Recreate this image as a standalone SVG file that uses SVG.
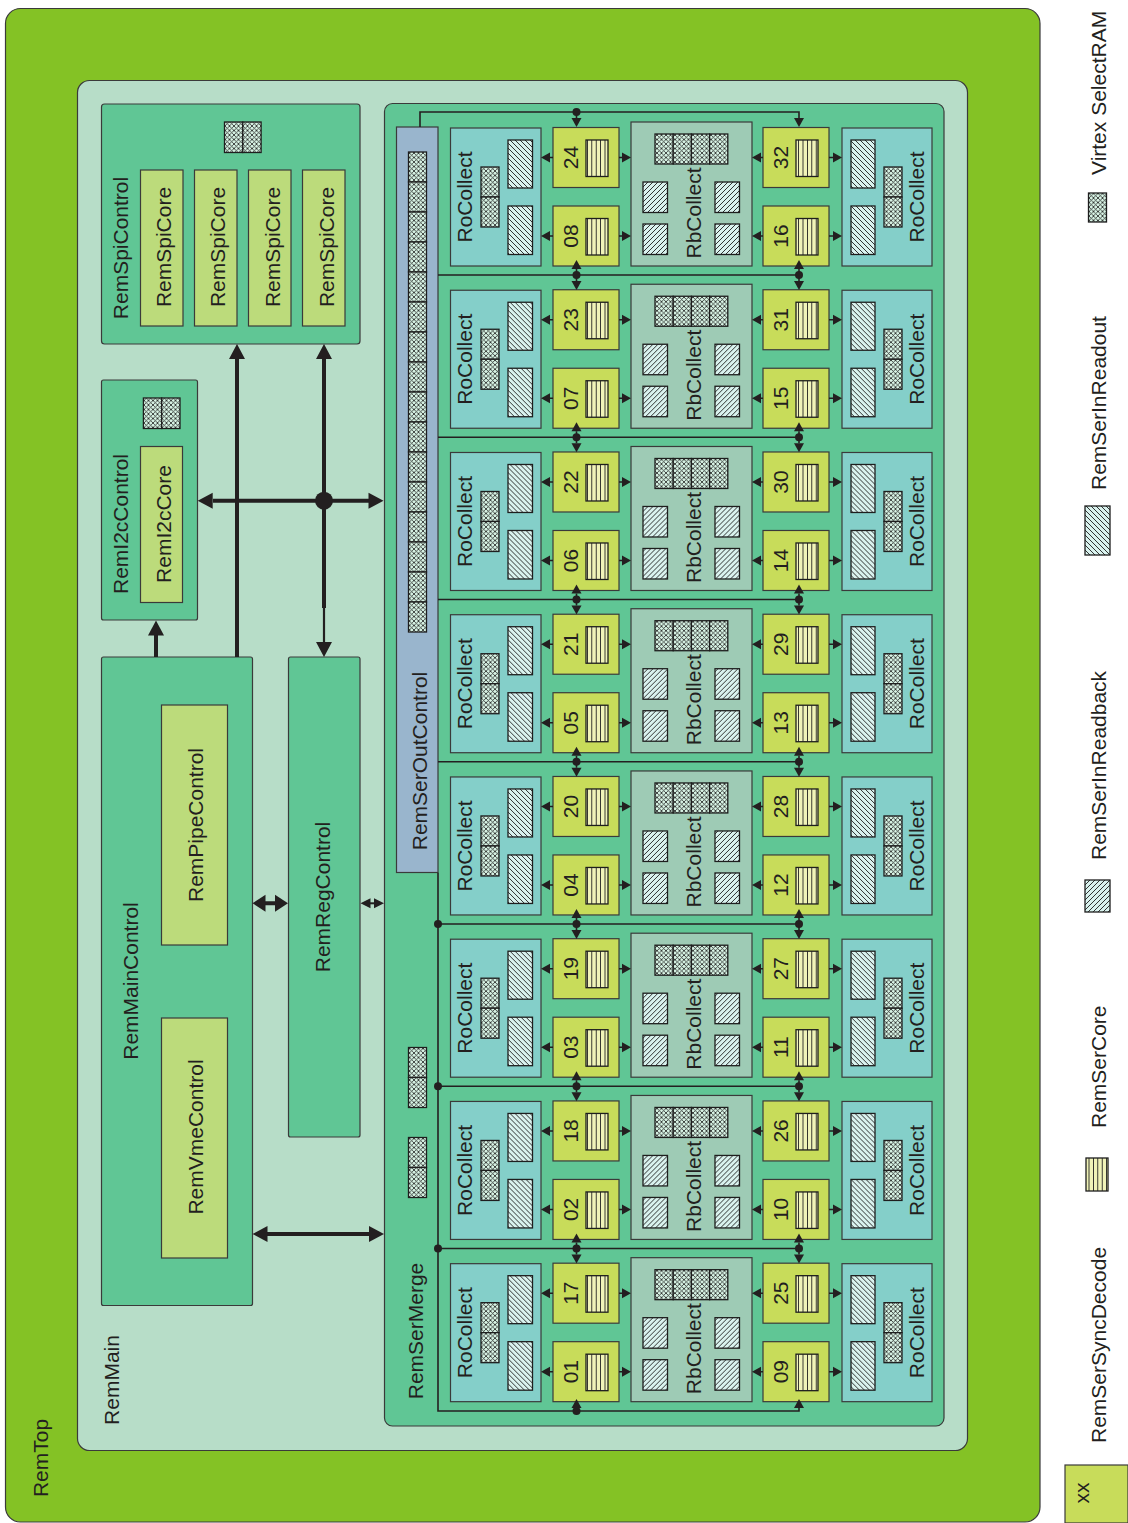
<svg xmlns="http://www.w3.org/2000/svg" width="1128" height="1523" viewBox="0 0 1128 1523">
<style>
.bx{stroke:#3a3a3a;stroke-width:1.2}
.top{fill:#84c225}
.main{fill:#b7ddc8}
.mg{fill:#60c695}
.lc{fill:#bcdb7b}
.oc{fill:#99b5cd}
.rc{fill:#84cfc9;stroke:#3a3a3a;stroke-width:1.2}
.rb{fill:#9ecbb5;stroke:#3a3a3a;stroke-width:1.2}
.sd{fill:#c8dc5a;stroke:#3a3a3a;stroke-width:1.2}
.cr{fill:url(#pCore);stroke:#1e1e1e;stroke-width:1.3}
.sr{fill:url(#pSram);stroke:#1e1e1e;stroke-width:1.3}
.ho{fill:url(#pRo);stroke:#1e1e1e;stroke-width:1.3}
.hb{fill:url(#pRb);stroke:#1e1e1e;stroke-width:1.3}
.t{font-family:"Liberation Sans",Arial,sans-serif;font-size:21px;fill:#231f20;text-anchor:middle}
.ts{text-anchor:start}
.ln{fill:none;stroke:#231f20;stroke-width:1.6}
.th{fill:none;stroke:#231f20;stroke-width:4}
.dot{fill:#231f20}
</style>
<defs>
<pattern id="pSram" width="4.5" height="4.5" patternUnits="userSpaceOnUse"><rect width="4.5" height="4.5" fill="#d9f5e6"/><path d="M0,0L4.5,4.5M4.5,0L0,4.5" stroke="#1e1e1e" stroke-width="0.8"/></pattern>
<pattern id="pRo" width="5" height="5" patternUnits="userSpaceOnUse"><rect width="5" height="5" fill="#d9f2ee"/><path d="M0,0L5,5M-1,4L1,6M4,-1L6,1" stroke="#1e1e1e" stroke-width="0.9"/></pattern>
<pattern id="pRb" width="5" height="5" patternUnits="userSpaceOnUse"><rect width="5" height="5" fill="#d9f2ee"/><path d="M0,5L5,0M-1,1L1,-1M4,6L6,4" stroke="#1e1e1e" stroke-width="0.9"/></pattern>
<pattern id="pCore" width="4.4" height="10" patternUnits="userSpaceOnUse"><rect width="4.4" height="10" fill="#f0f3b8"/><path d="M2.2,0V10" stroke="#1e1e1e" stroke-width="0.9"/></pattern>
<path id="ah" d="M0,0L-9,-5L-9,5Z" fill="#231f20"/>
<path id="AH" d="M0,0L-15,-8L-15,8Z" fill="#231f20"/>
<path id="AH2" d="M0,0L-13,-8.5L-13,8.5Z" fill="#231f20"/>
<path id="AHs" d="M0,0L-10,-5L-10,5Z" fill="#231f20"/>
</defs>

<g id="RemTop">
<rect class="bx top" x="5.5" y="8.5" width="1034.5" height="1513.5" rx="15"/>
<text class="t" transform="translate(48,1458) rotate(-90)">RemTop</text>
</g>
<g id="RemMain">
<rect class="bx main" x="77.5" y="80.5" width="890" height="1370" rx="12"/>
<text class="t" transform="translate(119,1380) rotate(-90)">RemMain</text>
</g>

<g id="RemSpiControl">
<rect class="bx mg" x="101.5" y="104" width="258.5" height="240" rx="3"/>
<rect class="sr" x="224.5" y="122" width="18.3" height="30.5"/>
<rect class="sr" x="242.8" y="122" width="18.3" height="30.5"/>
<text class="t" transform="translate(128,248) rotate(-90)">RemSpiControl</text>
</g>
<g id="RemSpiCore1"><rect class="bx lc" x="140.5" y="170" width="42.5" height="156"/><text class="t" transform="translate(171,247) rotate(-90)">RemSpiCore</text></g>
<g id="RemSpiCore2"><rect class="bx lc" x="194.5" y="170" width="42.5" height="156"/><text class="t" transform="translate(225,247) rotate(-90)">RemSpiCore</text></g>
<g id="RemSpiCore3"><rect class="bx lc" x="248.5" y="170" width="42.5" height="156"/><text class="t" transform="translate(279.5,247) rotate(-90)">RemSpiCore</text></g>
<g id="RemSpiCore4"><rect class="bx lc" x="302.5" y="170" width="42.5" height="156"/><text class="t" transform="translate(333.5,247) rotate(-90)">RemSpiCore</text></g>

<g id="RemI2cControl">
<rect class="bx mg" x="101.5" y="380" width="96" height="240" rx="2"/>
<rect class="sr" x="143.4" y="398" width="18.3" height="30.5"/>
<rect class="sr" x="161.7" y="398" width="18.3" height="30.5"/>
<text class="t" transform="translate(128,524) rotate(-90)">RemI2cControl</text>
</g>
<g id="RemI2cCore"><rect class="bx lc" x="140.5" y="446.5" width="42" height="156"/><text class="t" transform="translate(171,524) rotate(-90)">RemI2cCore</text></g>

<g id="RemMainControl">
<rect class="bx mg" x="101.5" y="657" width="151" height="648.5" rx="2"/>
<text class="t" transform="translate(138,981) rotate(-90)">RemMainControl</text>
</g>
<g id="RemPipeControl"><rect class="bx lc" x="161.5" y="705" width="66" height="240"/><text class="t" transform="translate(203,825) rotate(-90)">RemPipeControl</text></g>
<g id="RemVmeControl"><rect class="bx lc" x="161.5" y="1018" width="66" height="240"/><text class="t" transform="translate(203,1137) rotate(-90)">RemVmeControl</text></g>

<g id="RemRegControl">
<rect class="bx mg" x="288.5" y="657" width="71.5" height="480" rx="2"/>
<text class="t" transform="translate(330,897) rotate(-90)">RemRegControl</text>
</g>

<g id="RemSerMerge">
<rect class="bx mg" x="384.5" y="103.5" width="559.5" height="1322.5" rx="8"/>
<rect class="sr" x="408.5" y="1047.5" width="18" height="30"/>
<rect class="sr" x="408.5" y="1077.5" width="18" height="30"/>
<rect class="sr" x="408.5" y="1137.5" width="18" height="30"/>
<rect class="sr" x="408.5" y="1167.5" width="18" height="30"/>
<text class="t" transform="translate(423,1331) rotate(-90)">RemSerMerge</text>
</g>

<g id="RemSerOutControl">
<rect class="bx oc" x="396.5" y="127" width="41.5" height="745.5"/>
<rect class="sr" x="408.5" y="152" width="18" height="30"/>
<rect class="sr" x="408.5" y="182" width="18" height="30"/>
<rect class="sr" x="408.5" y="212" width="18" height="30"/>
<rect class="sr" x="408.5" y="242" width="18" height="30"/>
<rect class="sr" x="408.5" y="272" width="18" height="30"/>
<rect class="sr" x="408.5" y="302" width="18" height="30"/>
<rect class="sr" x="408.5" y="332" width="18" height="30"/>
<rect class="sr" x="408.5" y="362" width="18" height="30"/>
<rect class="sr" x="408.5" y="392" width="18" height="30"/>
<rect class="sr" x="408.5" y="422" width="18" height="30"/>
<rect class="sr" x="408.5" y="452" width="18" height="30"/>
<rect class="sr" x="408.5" y="482" width="18" height="30"/>
<rect class="sr" x="408.5" y="512" width="18" height="30"/>
<rect class="sr" x="408.5" y="542" width="18" height="30"/>
<rect class="sr" x="408.5" y="572" width="18" height="30"/>
<rect class="sr" x="408.5" y="602" width="18" height="30"/>
<text class="t" transform="translate(427,761) rotate(-90)">RemSerOutControl</text>
</g>

<g id="row1" transform="translate(0,0)">
<g id="RoCollectL1"><rect class="rc" x="450.5" y="128" width="90.5" height="138"/><rect class="ho" x="508" y="140" width="24.5" height="48"/><rect class="ho" x="508" y="206" width="24.5" height="48.5"/><rect class="sr" x="481" y="167" width="18" height="30"/><rect class="sr" x="481" y="197" width="18" height="30"/><text class="t" transform="translate(472,197) rotate(-90)">RoCollect</text></g>
<g id="SyncDecode24"><rect class="sd" x="553" y="127.5" width="66" height="60"/><rect class="cr" x="586" y="140" width="22" height="36.5"/><text class="t" transform="translate(578,157.5) rotate(-90)">24</text></g>
<g id="SyncDecode08"><rect class="sd" x="553" y="206" width="66" height="60"/><rect class="cr" x="586" y="218.5" width="22" height="36.5"/><text class="t" transform="translate(578,236) rotate(-90)">08</text></g>
<g id="RbCollect1"><rect class="rb" x="631" y="122" width="121" height="144"/><rect class="sr" x="655" y="134" width="18.2" height="30"/><rect class="sr" x="673.2" y="134" width="18.2" height="30"/><rect class="sr" x="691.4" y="134" width="18.2" height="30"/><rect class="sr" x="709.6" y="134" width="18.2" height="30"/><rect class="hb" x="643" y="182" width="24.5" height="30.5"/><rect class="hb" x="643" y="224" width="24.5" height="30.5"/><rect class="hb" x="715" y="182" width="24.5" height="30.5"/><rect class="hb" x="715" y="224" width="24.5" height="30.5"/><text class="t" transform="translate(701,213) rotate(-90)">RbCollect</text></g>
<g id="SyncDecode32"><rect class="sd" x="763" y="127.5" width="66" height="60"/><rect class="cr" x="796" y="140" width="22" height="36.5"/><text class="t" transform="translate(788,157.5) rotate(-90)">32</text></g>
<g id="SyncDecode16"><rect class="sd" x="763" y="206" width="66" height="60"/><rect class="cr" x="796" y="218.5" width="22" height="36.5"/><text class="t" transform="translate(788,236) rotate(-90)">16</text></g>
<g id="RoCollectR1"><rect class="rc" x="842" y="128" width="90" height="138"/><rect class="ho" x="851" y="140" width="24" height="48"/><rect class="ho" x="851" y="206" width="24" height="48.5"/><rect class="sr" x="884" y="167" width="18" height="30"/><rect class="sr" x="884" y="197" width="18" height="30"/><text class="t" transform="translate(924,197) rotate(-90)">RoCollect</text></g>
</g>

<g id="row2" transform="translate(0,162.24)">
<g id="RoCollectL2"><rect class="rc" x="450.5" y="128" width="90.5" height="138"/><rect class="ho" x="508" y="140" width="24.5" height="48"/><rect class="ho" x="508" y="206" width="24.5" height="48.5"/><rect class="sr" x="481" y="167" width="18" height="30"/><rect class="sr" x="481" y="197" width="18" height="30"/><text class="t" transform="translate(472,197) rotate(-90)">RoCollect</text></g>
<g id="SyncDecode23"><rect class="sd" x="553" y="127.5" width="66" height="60"/><rect class="cr" x="586" y="140" width="22" height="36.5"/><text class="t" transform="translate(578,157.5) rotate(-90)">23</text></g>
<g id="SyncDecode07"><rect class="sd" x="553" y="206" width="66" height="60"/><rect class="cr" x="586" y="218.5" width="22" height="36.5"/><text class="t" transform="translate(578,236) rotate(-90)">07</text></g>
<g id="RbCollect2"><rect class="rb" x="631" y="122" width="121" height="144"/><rect class="sr" x="655" y="134" width="18.2" height="30"/><rect class="sr" x="673.2" y="134" width="18.2" height="30"/><rect class="sr" x="691.4" y="134" width="18.2" height="30"/><rect class="sr" x="709.6" y="134" width="18.2" height="30"/><rect class="hb" x="643" y="182" width="24.5" height="30.5"/><rect class="hb" x="643" y="224" width="24.5" height="30.5"/><rect class="hb" x="715" y="182" width="24.5" height="30.5"/><rect class="hb" x="715" y="224" width="24.5" height="30.5"/><text class="t" transform="translate(701,213) rotate(-90)">RbCollect</text></g>
<g id="SyncDecode31"><rect class="sd" x="763" y="127.5" width="66" height="60"/><rect class="cr" x="796" y="140" width="22" height="36.5"/><text class="t" transform="translate(788,157.5) rotate(-90)">31</text></g>
<g id="SyncDecode15"><rect class="sd" x="763" y="206" width="66" height="60"/><rect class="cr" x="796" y="218.5" width="22" height="36.5"/><text class="t" transform="translate(788,236) rotate(-90)">15</text></g>
<g id="RoCollectR2"><rect class="rc" x="842" y="128" width="90" height="138"/><rect class="ho" x="851" y="140" width="24" height="48"/><rect class="ho" x="851" y="206" width="24" height="48.5"/><rect class="sr" x="884" y="167" width="18" height="30"/><rect class="sr" x="884" y="197" width="18" height="30"/><text class="t" transform="translate(924,197) rotate(-90)">RoCollect</text></g>
</g>

<g id="row3" transform="translate(0,324.48)">
<g id="RoCollectL3"><rect class="rc" x="450.5" y="128" width="90.5" height="138"/><rect class="ho" x="508" y="140" width="24.5" height="48"/><rect class="ho" x="508" y="206" width="24.5" height="48.5"/><rect class="sr" x="481" y="167" width="18" height="30"/><rect class="sr" x="481" y="197" width="18" height="30"/><text class="t" transform="translate(472,197) rotate(-90)">RoCollect</text></g>
<g id="SyncDecode22"><rect class="sd" x="553" y="127.5" width="66" height="60"/><rect class="cr" x="586" y="140" width="22" height="36.5"/><text class="t" transform="translate(578,157.5) rotate(-90)">22</text></g>
<g id="SyncDecode06"><rect class="sd" x="553" y="206" width="66" height="60"/><rect class="cr" x="586" y="218.5" width="22" height="36.5"/><text class="t" transform="translate(578,236) rotate(-90)">06</text></g>
<g id="RbCollect3"><rect class="rb" x="631" y="122" width="121" height="144"/><rect class="sr" x="655" y="134" width="18.2" height="30"/><rect class="sr" x="673.2" y="134" width="18.2" height="30"/><rect class="sr" x="691.4" y="134" width="18.2" height="30"/><rect class="sr" x="709.6" y="134" width="18.2" height="30"/><rect class="hb" x="643" y="182" width="24.5" height="30.5"/><rect class="hb" x="643" y="224" width="24.5" height="30.5"/><rect class="hb" x="715" y="182" width="24.5" height="30.5"/><rect class="hb" x="715" y="224" width="24.5" height="30.5"/><text class="t" transform="translate(701,213) rotate(-90)">RbCollect</text></g>
<g id="SyncDecode30"><rect class="sd" x="763" y="127.5" width="66" height="60"/><rect class="cr" x="796" y="140" width="22" height="36.5"/><text class="t" transform="translate(788,157.5) rotate(-90)">30</text></g>
<g id="SyncDecode14"><rect class="sd" x="763" y="206" width="66" height="60"/><rect class="cr" x="796" y="218.5" width="22" height="36.5"/><text class="t" transform="translate(788,236) rotate(-90)">14</text></g>
<g id="RoCollectR3"><rect class="rc" x="842" y="128" width="90" height="138"/><rect class="ho" x="851" y="140" width="24" height="48"/><rect class="ho" x="851" y="206" width="24" height="48.5"/><rect class="sr" x="884" y="167" width="18" height="30"/><rect class="sr" x="884" y="197" width="18" height="30"/><text class="t" transform="translate(924,197) rotate(-90)">RoCollect</text></g>
</g>

<g id="row4" transform="translate(0,486.72)">
<g id="RoCollectL4"><rect class="rc" x="450.5" y="128" width="90.5" height="138"/><rect class="ho" x="508" y="140" width="24.5" height="48"/><rect class="ho" x="508" y="206" width="24.5" height="48.5"/><rect class="sr" x="481" y="167" width="18" height="30"/><rect class="sr" x="481" y="197" width="18" height="30"/><text class="t" transform="translate(472,197) rotate(-90)">RoCollect</text></g>
<g id="SyncDecode21"><rect class="sd" x="553" y="127.5" width="66" height="60"/><rect class="cr" x="586" y="140" width="22" height="36.5"/><text class="t" transform="translate(578,157.5) rotate(-90)">21</text></g>
<g id="SyncDecode05"><rect class="sd" x="553" y="206" width="66" height="60"/><rect class="cr" x="586" y="218.5" width="22" height="36.5"/><text class="t" transform="translate(578,236) rotate(-90)">05</text></g>
<g id="RbCollect4"><rect class="rb" x="631" y="122" width="121" height="144"/><rect class="sr" x="655" y="134" width="18.2" height="30"/><rect class="sr" x="673.2" y="134" width="18.2" height="30"/><rect class="sr" x="691.4" y="134" width="18.2" height="30"/><rect class="sr" x="709.6" y="134" width="18.2" height="30"/><rect class="hb" x="643" y="182" width="24.5" height="30.5"/><rect class="hb" x="643" y="224" width="24.5" height="30.5"/><rect class="hb" x="715" y="182" width="24.5" height="30.5"/><rect class="hb" x="715" y="224" width="24.5" height="30.5"/><text class="t" transform="translate(701,213) rotate(-90)">RbCollect</text></g>
<g id="SyncDecode29"><rect class="sd" x="763" y="127.5" width="66" height="60"/><rect class="cr" x="796" y="140" width="22" height="36.5"/><text class="t" transform="translate(788,157.5) rotate(-90)">29</text></g>
<g id="SyncDecode13"><rect class="sd" x="763" y="206" width="66" height="60"/><rect class="cr" x="796" y="218.5" width="22" height="36.5"/><text class="t" transform="translate(788,236) rotate(-90)">13</text></g>
<g id="RoCollectR4"><rect class="rc" x="842" y="128" width="90" height="138"/><rect class="ho" x="851" y="140" width="24" height="48"/><rect class="ho" x="851" y="206" width="24" height="48.5"/><rect class="sr" x="884" y="167" width="18" height="30"/><rect class="sr" x="884" y="197" width="18" height="30"/><text class="t" transform="translate(924,197) rotate(-90)">RoCollect</text></g>
</g>

<g id="row5" transform="translate(0,648.96)">
<g id="RoCollectL5"><rect class="rc" x="450.5" y="128" width="90.5" height="138"/><rect class="ho" x="508" y="140" width="24.5" height="48"/><rect class="ho" x="508" y="206" width="24.5" height="48.5"/><rect class="sr" x="481" y="167" width="18" height="30"/><rect class="sr" x="481" y="197" width="18" height="30"/><text class="t" transform="translate(472,197) rotate(-90)">RoCollect</text></g>
<g id="SyncDecode20"><rect class="sd" x="553" y="127.5" width="66" height="60"/><rect class="cr" x="586" y="140" width="22" height="36.5"/><text class="t" transform="translate(578,157.5) rotate(-90)">20</text></g>
<g id="SyncDecode04"><rect class="sd" x="553" y="206" width="66" height="60"/><rect class="cr" x="586" y="218.5" width="22" height="36.5"/><text class="t" transform="translate(578,236) rotate(-90)">04</text></g>
<g id="RbCollect5"><rect class="rb" x="631" y="122" width="121" height="144"/><rect class="sr" x="655" y="134" width="18.2" height="30"/><rect class="sr" x="673.2" y="134" width="18.2" height="30"/><rect class="sr" x="691.4" y="134" width="18.2" height="30"/><rect class="sr" x="709.6" y="134" width="18.2" height="30"/><rect class="hb" x="643" y="182" width="24.5" height="30.5"/><rect class="hb" x="643" y="224" width="24.5" height="30.5"/><rect class="hb" x="715" y="182" width="24.5" height="30.5"/><rect class="hb" x="715" y="224" width="24.5" height="30.5"/><text class="t" transform="translate(701,213) rotate(-90)">RbCollect</text></g>
<g id="SyncDecode28"><rect class="sd" x="763" y="127.5" width="66" height="60"/><rect class="cr" x="796" y="140" width="22" height="36.5"/><text class="t" transform="translate(788,157.5) rotate(-90)">28</text></g>
<g id="SyncDecode12"><rect class="sd" x="763" y="206" width="66" height="60"/><rect class="cr" x="796" y="218.5" width="22" height="36.5"/><text class="t" transform="translate(788,236) rotate(-90)">12</text></g>
<g id="RoCollectR5"><rect class="rc" x="842" y="128" width="90" height="138"/><rect class="ho" x="851" y="140" width="24" height="48"/><rect class="ho" x="851" y="206" width="24" height="48.5"/><rect class="sr" x="884" y="167" width="18" height="30"/><rect class="sr" x="884" y="197" width="18" height="30"/><text class="t" transform="translate(924,197) rotate(-90)">RoCollect</text></g>
</g>

<g id="row6" transform="translate(0,811.2)">
<g id="RoCollectL6"><rect class="rc" x="450.5" y="128" width="90.5" height="138"/><rect class="ho" x="508" y="140" width="24.5" height="48"/><rect class="ho" x="508" y="206" width="24.5" height="48.5"/><rect class="sr" x="481" y="167" width="18" height="30"/><rect class="sr" x="481" y="197" width="18" height="30"/><text class="t" transform="translate(472,197) rotate(-90)">RoCollect</text></g>
<g id="SyncDecode19"><rect class="sd" x="553" y="127.5" width="66" height="60"/><rect class="cr" x="586" y="140" width="22" height="36.5"/><text class="t" transform="translate(578,157.5) rotate(-90)">19</text></g>
<g id="SyncDecode03"><rect class="sd" x="553" y="206" width="66" height="60"/><rect class="cr" x="586" y="218.5" width="22" height="36.5"/><text class="t" transform="translate(578,236) rotate(-90)">03</text></g>
<g id="RbCollect6"><rect class="rb" x="631" y="122" width="121" height="144"/><rect class="sr" x="655" y="134" width="18.2" height="30"/><rect class="sr" x="673.2" y="134" width="18.2" height="30"/><rect class="sr" x="691.4" y="134" width="18.2" height="30"/><rect class="sr" x="709.6" y="134" width="18.2" height="30"/><rect class="hb" x="643" y="182" width="24.5" height="30.5"/><rect class="hb" x="643" y="224" width="24.5" height="30.5"/><rect class="hb" x="715" y="182" width="24.5" height="30.5"/><rect class="hb" x="715" y="224" width="24.5" height="30.5"/><text class="t" transform="translate(701,213) rotate(-90)">RbCollect</text></g>
<g id="SyncDecode27"><rect class="sd" x="763" y="127.5" width="66" height="60"/><rect class="cr" x="796" y="140" width="22" height="36.5"/><text class="t" transform="translate(788,157.5) rotate(-90)">27</text></g>
<g id="SyncDecode11"><rect class="sd" x="763" y="206" width="66" height="60"/><rect class="cr" x="796" y="218.5" width="22" height="36.5"/><text class="t" transform="translate(788,236) rotate(-90)">11</text></g>
<g id="RoCollectR6"><rect class="rc" x="842" y="128" width="90" height="138"/><rect class="ho" x="851" y="140" width="24" height="48"/><rect class="ho" x="851" y="206" width="24" height="48.5"/><rect class="sr" x="884" y="167" width="18" height="30"/><rect class="sr" x="884" y="197" width="18" height="30"/><text class="t" transform="translate(924,197) rotate(-90)">RoCollect</text></g>
</g>

<g id="row7" transform="translate(0,973.44)">
<g id="RoCollectL7"><rect class="rc" x="450.5" y="128" width="90.5" height="138"/><rect class="ho" x="508" y="140" width="24.5" height="48"/><rect class="ho" x="508" y="206" width="24.5" height="48.5"/><rect class="sr" x="481" y="167" width="18" height="30"/><rect class="sr" x="481" y="197" width="18" height="30"/><text class="t" transform="translate(472,197) rotate(-90)">RoCollect</text></g>
<g id="SyncDecode18"><rect class="sd" x="553" y="127.5" width="66" height="60"/><rect class="cr" x="586" y="140" width="22" height="36.5"/><text class="t" transform="translate(578,157.5) rotate(-90)">18</text></g>
<g id="SyncDecode02"><rect class="sd" x="553" y="206" width="66" height="60"/><rect class="cr" x="586" y="218.5" width="22" height="36.5"/><text class="t" transform="translate(578,236) rotate(-90)">02</text></g>
<g id="RbCollect7"><rect class="rb" x="631" y="122" width="121" height="144"/><rect class="sr" x="655" y="134" width="18.2" height="30"/><rect class="sr" x="673.2" y="134" width="18.2" height="30"/><rect class="sr" x="691.4" y="134" width="18.2" height="30"/><rect class="sr" x="709.6" y="134" width="18.2" height="30"/><rect class="hb" x="643" y="182" width="24.5" height="30.5"/><rect class="hb" x="643" y="224" width="24.5" height="30.5"/><rect class="hb" x="715" y="182" width="24.5" height="30.5"/><rect class="hb" x="715" y="224" width="24.5" height="30.5"/><text class="t" transform="translate(701,213) rotate(-90)">RbCollect</text></g>
<g id="SyncDecode26"><rect class="sd" x="763" y="127.5" width="66" height="60"/><rect class="cr" x="796" y="140" width="22" height="36.5"/><text class="t" transform="translate(788,157.5) rotate(-90)">26</text></g>
<g id="SyncDecode10"><rect class="sd" x="763" y="206" width="66" height="60"/><rect class="cr" x="796" y="218.5" width="22" height="36.5"/><text class="t" transform="translate(788,236) rotate(-90)">10</text></g>
<g id="RoCollectR7"><rect class="rc" x="842" y="128" width="90" height="138"/><rect class="ho" x="851" y="140" width="24" height="48"/><rect class="ho" x="851" y="206" width="24" height="48.5"/><rect class="sr" x="884" y="167" width="18" height="30"/><rect class="sr" x="884" y="197" width="18" height="30"/><text class="t" transform="translate(924,197) rotate(-90)">RoCollect</text></g>
</g>

<g id="row8" transform="translate(0,1135.68)">
<g id="RoCollectL8"><rect class="rc" x="450.5" y="128" width="90.5" height="138"/><rect class="ho" x="508" y="140" width="24.5" height="48"/><rect class="ho" x="508" y="206" width="24.5" height="48.5"/><rect class="sr" x="481" y="167" width="18" height="30"/><rect class="sr" x="481" y="197" width="18" height="30"/><text class="t" transform="translate(472,197) rotate(-90)">RoCollect</text></g>
<g id="SyncDecode17"><rect class="sd" x="553" y="127.5" width="66" height="60"/><rect class="cr" x="586" y="140" width="22" height="36.5"/><text class="t" transform="translate(578,157.5) rotate(-90)">17</text></g>
<g id="SyncDecode01"><rect class="sd" x="553" y="206" width="66" height="60"/><rect class="cr" x="586" y="218.5" width="22" height="36.5"/><text class="t" transform="translate(578,236) rotate(-90)">01</text></g>
<g id="RbCollect8"><rect class="rb" x="631" y="122" width="121" height="144"/><rect class="sr" x="655" y="134" width="18.2" height="30"/><rect class="sr" x="673.2" y="134" width="18.2" height="30"/><rect class="sr" x="691.4" y="134" width="18.2" height="30"/><rect class="sr" x="709.6" y="134" width="18.2" height="30"/><rect class="hb" x="643" y="182" width="24.5" height="30.5"/><rect class="hb" x="643" y="224" width="24.5" height="30.5"/><rect class="hb" x="715" y="182" width="24.5" height="30.5"/><rect class="hb" x="715" y="224" width="24.5" height="30.5"/><text class="t" transform="translate(701,213) rotate(-90)">RbCollect</text></g>
<g id="SyncDecode25"><rect class="sd" x="763" y="127.5" width="66" height="60"/><rect class="cr" x="796" y="140" width="22" height="36.5"/><text class="t" transform="translate(788,157.5) rotate(-90)">25</text></g>
<g id="SyncDecode09"><rect class="sd" x="763" y="206" width="66" height="60"/><rect class="cr" x="796" y="218.5" width="22" height="36.5"/><text class="t" transform="translate(788,236) rotate(-90)">09</text></g>
<g id="RoCollectR8"><rect class="rc" x="842" y="128" width="90" height="138"/><rect class="ho" x="851" y="140" width="24" height="48"/><rect class="ho" x="851" y="206" width="24" height="48.5"/><rect class="sr" x="884" y="167" width="18" height="30"/><rect class="sr" x="884" y="197" width="18" height="30"/><text class="t" transform="translate(924,197) rotate(-90)">RoCollect</text></g>
</g>

<g id="connectors">
<!-- main control arrows -->
<path class="th" d="M237,657V358M324,358V608M213,500.7H369M156,657V634M265,903.3H276M267,1234H370"/>
<path fill="none" stroke="#231f20" stroke-width="2.2" d="M324,606V643"/>
<path fill="none" stroke="#231f20" stroke-width="2" d="M369,903.3H375"/>
<use href="#AH" transform="translate(237,344) rotate(-90)"/>
<use href="#AH" transform="translate(324,344) rotate(-90)"/>
<use href="#AH" transform="translate(324,657) rotate(90)"/>
<use href="#AH" transform="translate(197.7,500.7) rotate(180)"/>
<use href="#AH" transform="translate(383.5,500.7)"/>
<circle class="dot" cx="324" cy="500.7" r="9"/>
<use href="#AH" transform="translate(156,620.5) rotate(-90)"/>
<use href="#AH2" transform="translate(252.5,903.3) rotate(180)"/>
<use href="#AH2" transform="translate(288,903.3)"/>
<use href="#AHs" transform="translate(360.5,903.3) rotate(180)"/>
<use href="#AHs" transform="translate(384,903.3)"/>
<use href="#AH" transform="translate(252.5,1234) rotate(180)"/>
<use href="#AH" transform="translate(384,1234)"/>

<!-- serial bus -->
<path class="ln" d="M420,127V112H799V118M576.5,112V118"/>
<circle class="dot" cx="576.5" cy="112" r="4"/>
<use href="#ah" transform="translate(576.5,127) rotate(90)"/>
<use href="#ah" transform="translate(799,127) rotate(90)"/>
<path class="ln" d="M438,872.7V1411H799V1407M576.5,1411V1407"/>
<circle class="dot" cx="576.5" cy="1411" r="4"/>
<use href="#ah" transform="translate(576.5,1399) rotate(-90)"/>
<use href="#ah" transform="translate(799,1399) rotate(-90)"/>
<circle class="dot" cx="438" cy="923.96" r="4"/>
<circle class="dot" cx="438" cy="1086.2" r="4"/>
<circle class="dot" cx="438" cy="1248.44" r="4"/>

<g transform="translate(0,0)"><path class="ln" d="M438,275H799M576.5,269V281M799,269V281"/><circle class="dot" cx="576.5" cy="275" r="4"/><circle class="dot" cx="799" cy="275" r="4"/><use href="#ah" transform="translate(576.5,260) rotate(-90)"/><use href="#ah" transform="translate(576.5,290) rotate(90)"/><use href="#ah" transform="translate(799,260) rotate(-90)"/><use href="#ah" transform="translate(799,290) rotate(90)"/></g>
<g transform="translate(0,162.24)"><path class="ln" d="M438,275H799M576.5,269V281M799,269V281"/><circle class="dot" cx="576.5" cy="275" r="4"/><circle class="dot" cx="799" cy="275" r="4"/><use href="#ah" transform="translate(576.5,260) rotate(-90)"/><use href="#ah" transform="translate(576.5,290) rotate(90)"/><use href="#ah" transform="translate(799,260) rotate(-90)"/><use href="#ah" transform="translate(799,290) rotate(90)"/></g>
<g transform="translate(0,324.48)"><path class="ln" d="M438,275H799M576.5,269V281M799,269V281"/><circle class="dot" cx="576.5" cy="275" r="4"/><circle class="dot" cx="799" cy="275" r="4"/><use href="#ah" transform="translate(576.5,260) rotate(-90)"/><use href="#ah" transform="translate(576.5,290) rotate(90)"/><use href="#ah" transform="translate(799,260) rotate(-90)"/><use href="#ah" transform="translate(799,290) rotate(90)"/></g>
<g transform="translate(0,486.72)"><path class="ln" d="M438,275H799M576.5,269V281M799,269V281"/><circle class="dot" cx="576.5" cy="275" r="4"/><circle class="dot" cx="799" cy="275" r="4"/><use href="#ah" transform="translate(576.5,260) rotate(-90)"/><use href="#ah" transform="translate(576.5,290) rotate(90)"/><use href="#ah" transform="translate(799,260) rotate(-90)"/><use href="#ah" transform="translate(799,290) rotate(90)"/></g>
<g transform="translate(0,648.96)"><path class="ln" d="M438,275H799M576.5,269V281M799,269V281"/><circle class="dot" cx="576.5" cy="275" r="4"/><circle class="dot" cx="799" cy="275" r="4"/><use href="#ah" transform="translate(576.5,260) rotate(-90)"/><use href="#ah" transform="translate(576.5,290) rotate(90)"/><use href="#ah" transform="translate(799,260) rotate(-90)"/><use href="#ah" transform="translate(799,290) rotate(90)"/></g>
<g transform="translate(0,811.2)"><path class="ln" d="M438,275H799M576.5,269V281M799,269V281"/><circle class="dot" cx="576.5" cy="275" r="4"/><circle class="dot" cx="799" cy="275" r="4"/><use href="#ah" transform="translate(576.5,260) rotate(-90)"/><use href="#ah" transform="translate(576.5,290) rotate(90)"/><use href="#ah" transform="translate(799,260) rotate(-90)"/><use href="#ah" transform="translate(799,290) rotate(90)"/></g>
<g transform="translate(0,973.44)"><path class="ln" d="M438,275H799M576.5,269V281M799,269V281"/><circle class="dot" cx="576.5" cy="275" r="4"/><circle class="dot" cx="799" cy="275" r="4"/><use href="#ah" transform="translate(576.5,260) rotate(-90)"/><use href="#ah" transform="translate(576.5,290) rotate(90)"/><use href="#ah" transform="translate(799,260) rotate(-90)"/><use href="#ah" transform="translate(799,290) rotate(90)"/></g>

<!-- per-row decode arrows -->
<g transform="translate(0,0)"><path class="ln" d="M553,157.5H550M619,157.5H622M763,157.5H761M829,157.5H833M553,236H550M619,236H622M763,236H761M829,236H833"/><use href="#ah" transform="translate(541,157.5) rotate(180)"/><use href="#ah" transform="translate(631,157.5)"/><use href="#ah" transform="translate(752,157.5) rotate(180)"/><use href="#ah" transform="translate(842,157.5)"/><use href="#ah" transform="translate(541,236) rotate(180)"/><use href="#ah" transform="translate(631,236)"/><use href="#ah" transform="translate(752,236) rotate(180)"/><use href="#ah" transform="translate(842,236)"/></g>
<g transform="translate(0,162.24)"><path class="ln" d="M553,157.5H550M619,157.5H622M763,157.5H761M829,157.5H833M553,236H550M619,236H622M763,236H761M829,236H833"/><use href="#ah" transform="translate(541,157.5) rotate(180)"/><use href="#ah" transform="translate(631,157.5)"/><use href="#ah" transform="translate(752,157.5) rotate(180)"/><use href="#ah" transform="translate(842,157.5)"/><use href="#ah" transform="translate(541,236) rotate(180)"/><use href="#ah" transform="translate(631,236)"/><use href="#ah" transform="translate(752,236) rotate(180)"/><use href="#ah" transform="translate(842,236)"/></g>
<g transform="translate(0,324.48)"><path class="ln" d="M553,157.5H550M619,157.5H622M763,157.5H761M829,157.5H833M553,236H550M619,236H622M763,236H761M829,236H833"/><use href="#ah" transform="translate(541,157.5) rotate(180)"/><use href="#ah" transform="translate(631,157.5)"/><use href="#ah" transform="translate(752,157.5) rotate(180)"/><use href="#ah" transform="translate(842,157.5)"/><use href="#ah" transform="translate(541,236) rotate(180)"/><use href="#ah" transform="translate(631,236)"/><use href="#ah" transform="translate(752,236) rotate(180)"/><use href="#ah" transform="translate(842,236)"/></g>
<g transform="translate(0,486.72)"><path class="ln" d="M553,157.5H550M619,157.5H622M763,157.5H761M829,157.5H833M553,236H550M619,236H622M763,236H761M829,236H833"/><use href="#ah" transform="translate(541,157.5) rotate(180)"/><use href="#ah" transform="translate(631,157.5)"/><use href="#ah" transform="translate(752,157.5) rotate(180)"/><use href="#ah" transform="translate(842,157.5)"/><use href="#ah" transform="translate(541,236) rotate(180)"/><use href="#ah" transform="translate(631,236)"/><use href="#ah" transform="translate(752,236) rotate(180)"/><use href="#ah" transform="translate(842,236)"/></g>
<g transform="translate(0,648.96)"><path class="ln" d="M553,157.5H550M619,157.5H622M763,157.5H761M829,157.5H833M553,236H550M619,236H622M763,236H761M829,236H833"/><use href="#ah" transform="translate(541,157.5) rotate(180)"/><use href="#ah" transform="translate(631,157.5)"/><use href="#ah" transform="translate(752,157.5) rotate(180)"/><use href="#ah" transform="translate(842,157.5)"/><use href="#ah" transform="translate(541,236) rotate(180)"/><use href="#ah" transform="translate(631,236)"/><use href="#ah" transform="translate(752,236) rotate(180)"/><use href="#ah" transform="translate(842,236)"/></g>
<g transform="translate(0,811.2)"><path class="ln" d="M553,157.5H550M619,157.5H622M763,157.5H761M829,157.5H833M553,236H550M619,236H622M763,236H761M829,236H833"/><use href="#ah" transform="translate(541,157.5) rotate(180)"/><use href="#ah" transform="translate(631,157.5)"/><use href="#ah" transform="translate(752,157.5) rotate(180)"/><use href="#ah" transform="translate(842,157.5)"/><use href="#ah" transform="translate(541,236) rotate(180)"/><use href="#ah" transform="translate(631,236)"/><use href="#ah" transform="translate(752,236) rotate(180)"/><use href="#ah" transform="translate(842,236)"/></g>
<g transform="translate(0,973.44)"><path class="ln" d="M553,157.5H550M619,157.5H622M763,157.5H761M829,157.5H833M553,236H550M619,236H622M763,236H761M829,236H833"/><use href="#ah" transform="translate(541,157.5) rotate(180)"/><use href="#ah" transform="translate(631,157.5)"/><use href="#ah" transform="translate(752,157.5) rotate(180)"/><use href="#ah" transform="translate(842,157.5)"/><use href="#ah" transform="translate(541,236) rotate(180)"/><use href="#ah" transform="translate(631,236)"/><use href="#ah" transform="translate(752,236) rotate(180)"/><use href="#ah" transform="translate(842,236)"/></g>
<g transform="translate(0,1135.68)"><path class="ln" d="M553,157.5H550M619,157.5H622M763,157.5H761M829,157.5H833M553,236H550M619,236H622M763,236H761M829,236H833"/><use href="#ah" transform="translate(541,157.5) rotate(180)"/><use href="#ah" transform="translate(631,157.5)"/><use href="#ah" transform="translate(752,157.5) rotate(180)"/><use href="#ah" transform="translate(842,157.5)"/><use href="#ah" transform="translate(541,236) rotate(180)"/><use href="#ah" transform="translate(631,236)"/><use href="#ah" transform="translate(752,236) rotate(180)"/><use href="#ah" transform="translate(842,236)"/></g>
</g>

<g id="legend">
<g id="legSram"><text class="t ts" transform="translate(1106,175) rotate(-90)">Virtex SelectRAM</text><rect class="sr" x="1088.5" y="193" width="18" height="29"/></g>
<g id="legRo"><text class="t ts" transform="translate(1106,490) rotate(-90)">RemSerInReadout</text><rect class="ho" x="1085" y="506" width="25" height="49"/></g>
<g id="legRb"><text class="t ts" transform="translate(1106,860) rotate(-90)">RemSerInReadback</text><rect class="hb" x="1085" y="880" width="25" height="32"/></g>
<g id="legCore"><text class="t ts" transform="translate(1106,1128) rotate(-90)">RemSerCore</text><rect class="cr" x="1086" y="1158" width="22" height="33"/></g>
<g id="legSd"><text class="t ts" transform="translate(1106,1443) rotate(-90)">RemSerSyncDecode</text><rect class="sd" x="1065" y="1465" width="63" height="58"/><text class="t" transform="translate(1089,1493) rotate(-90)">xx</text></g>
</g>
</svg>
